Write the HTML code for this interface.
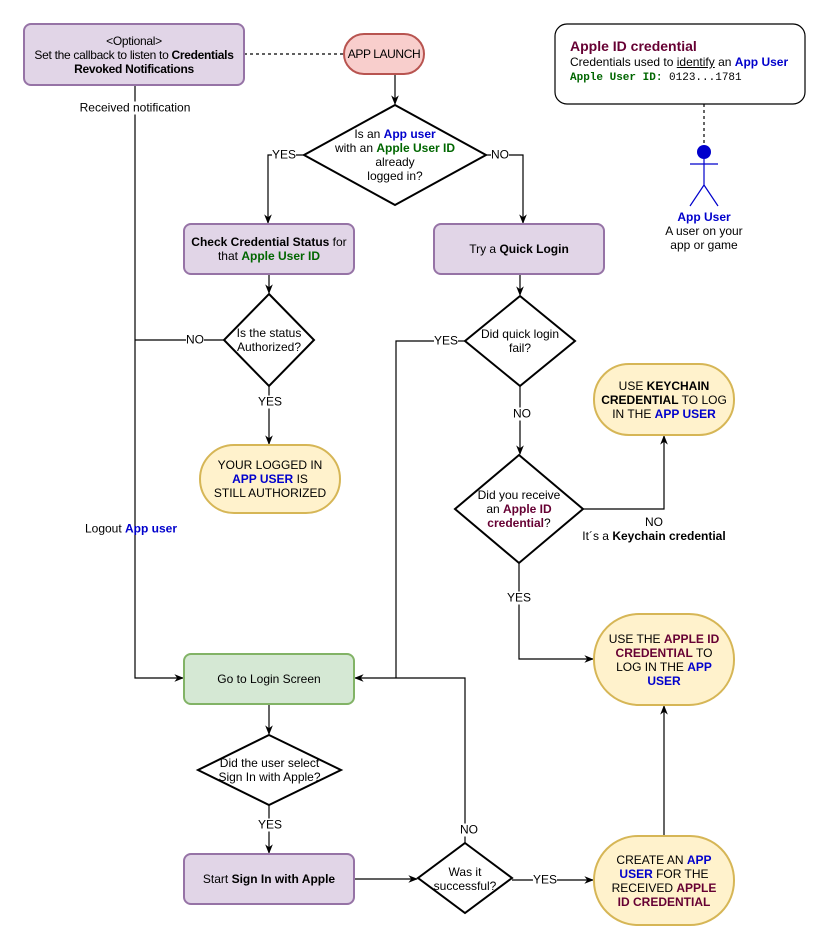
<!DOCTYPE html>
<html><head><meta charset="utf-8"><style>
body{margin:0;background:#fff;width:822px;height:943px;position:relative;overflow:hidden;font-family:"Liberation Sans",Arial,sans-serif;font-size:12px;color:#000}
.t{position:absolute;display:flex;align-items:center;justify-content:center;text-align:center;line-height:14px}
.l{position:absolute;background:#fff;line-height:13px;white-space:nowrap;transform:translate(-50%,-50%)}
.b{color:#0000cc;font-weight:bold}.g{color:#006600;font-weight:bold}.m{color:#660033;font-weight:bold}
svg{position:absolute;left:0;top:0}
</style></head><body>
<svg width="822" height="943" viewBox="0 0 822 943">
<defs><marker id="a" viewBox="0 0 10 10" refX="9" refY="5" markerWidth="8" markerHeight="8" orient="auto-start-reverse"><path d="M0,1 L10,5 L0,9 L3,5z" fill="#000"/></marker></defs>
<g fill="none" stroke="#000" stroke-width="1.2">
<path d="M244 54 H344" stroke-dasharray="3,3"/>
<path d="M704 104 V145" stroke-dasharray="3,3"/>
<path d="M395 74 V104" marker-end="url(#a)"/>
<path d="M304 155 H268 V223" marker-end="url(#a)"/>
<path d="M486 155 H523 V223" marker-end="url(#a)"/>
<path d="M269 274 V293" marker-end="url(#a)"/>
<path d="M520 274 V295" marker-end="url(#a)"/>
<path d="M224 340 H135"/>
<path d="M135 85 V678 H183" marker-end="url(#a)"/>
<path d="M269 386 V444" marker-end="url(#a)"/>
<path d="M465 341 H396 V678"/>
<path d="M520 386 V454" marker-end="url(#a)"/>
<path d="M583 509 H664 V436" marker-end="url(#a)"/>
<path d="M519 563 V659 H593" marker-end="url(#a)"/>
<path d="M269 704 V734" marker-end="url(#a)"/>
<path d="M269 805 V853" marker-end="url(#a)"/>
<path d="M354 879 H417" marker-end="url(#a)"/>
<path d="M465 843 V678 H355" marker-end="url(#a)"/>
<path d="M512 880 H593" marker-end="url(#a)"/>
<path d="M664 836 V706" marker-end="url(#a)"/>
<path d="M704 159 V185 M690 164 H718 M704 185 L690 206 M704 185 L718 206" stroke="#0000cc"/>
</g>
<circle cx="704" cy="152" r="7" fill="#0000cc"/>
<rect x="24" y="24" width="220" height="61" rx="7" fill="#e1d5e7" stroke="#9673a6" stroke-width="2"/>
<rect x="344" y="34" width="80" height="40" rx="20" fill="#f8cecc" stroke="#b85450" stroke-width="2"/>
<rect x="555" y="24" width="250" height="80" rx="12" fill="#fff" stroke="#000" stroke-width="1.2"/>
<g fill="#fff" stroke="#000" stroke-width="2">
<path d="M395 105 L486 155 L395 205 L304 155z"/>
<path d="M269 294 L314 340 L269 386 L224 340z"/>
<path d="M520 296 L575 341 L520 386 L465 341z"/>
<path d="M519 455 L583 509 L519 563 L455 509z"/>
<path d="M269 735 L341 770 L269 805 L198 770z"/>
<path d="M465 843 L512 878 L465 913 L418 878z"/>
</g>
<rect x="184" y="224" width="170" height="50" rx="7" fill="#e1d5e7" stroke="#9673a6" stroke-width="2"/>
<rect x="434" y="224" width="170" height="50" rx="7" fill="#e1d5e7" stroke="#9673a6" stroke-width="2"/>
<rect x="184" y="654" width="170" height="50" rx="7" fill="#d5e8d4" stroke="#82b366" stroke-width="2"/>
<rect x="184" y="854" width="170" height="50" rx="7" fill="#e1d5e7" stroke="#9673a6" stroke-width="2"/>
<g fill="#fff2cc" stroke="#d6b656" stroke-width="2">
<rect x="200" y="445" width="140" height="68" rx="34"/>
<rect x="594" y="364" width="140" height="71" rx="35"/>
<rect x="594" y="614" width="140" height="91" rx="45"/>
<rect x="594" y="836" width="140" height="89" rx="44"/>
</g>
</svg>
<div class="t" style="left:24px;top:24px;width:220px;height:61px"><span style="letter-spacing:-0.3px">&lt;Optional&gt;<br>Set the callback to listen to <b>Credentials</b><br><b>Revoked Notifications</b></span></div>
<div class="t" style="left:344px;top:34px;width:80px;height:40px;letter-spacing:-0.4px">APP LAUNCH</div>
<div style="position:absolute;left:570px;top:38px;line-height:16px">
<div style="color:#660033;font-weight:bold;font-size:14px">Apple ID credential</div>
<div>Credentials used to <u>identify</u> an <span class="b">App User</span></div>
<div style="font-family:'Liberation Mono',monospace;font-size:11px"><span class="g">Apple User ID:</span> 0123...1781</div></div>
<div class="t" style="left:644px;top:210px;width:120px;flex-direction:column"><span class="b">App User</span><span>A user on your</span><span>app or game</span></div>
<div class="t" style="left:315px;top:120px;width:160px;height:70px;flex-direction:column"><span>Is an <span class="b">App user</span></span><span>with an <span class="g">Apple User ID</span></span><span>already</span><span>logged in?</span></div>
<div class="t" style="left:184px;top:224px;width:170px;height:50px"><span><b>Check Credential Status</b> for<br>that <span class="g">Apple User ID</span></span></div>
<div class="t" style="left:434px;top:224px;width:170px;height:50px"><span>Try a <b>Quick Login</b></span></div>
<div class="t" style="left:224px;top:326px;width:90px;height:28px">Is the status<br>Authorized?</div>
<div class="t" style="left:465px;top:327px;width:110px;height:28px">Did quick login<br>fail?</div>
<div class="t" style="left:460px;top:488px;width:118px;height:42px"><span>Did you receive<br>an <span class="m">Apple ID</span><br><span class="m">credential</span>?</span></div>
<div class="t" style="left:200px;top:445px;width:140px;height:68px"><span>YOUR LOGGED IN<br><span class="b">APP USER</span> IS<br>STILL AUTHORIZED</span></div>
<div class="t" style="left:594px;top:364px;width:140px;height:71px"><span>USE <b>KEYCHAIN</b><br><b>CREDENTIAL</b> TO LOG<br>IN THE <span class="b">APP USER</span></span></div>
<div class="t" style="left:594px;top:614px;width:140px;height:91px"><span>USE THE <span class="m">APPLE ID</span><br><span class="m">CREDENTIAL</span> TO<br>LOG IN THE <span class="b">APP</span><br><span class="b">USER</span></span></div>
<div class="t" style="left:594px;top:836px;width:140px;height:89px"><span>CREATE AN <span class="b">APP</span><br><span class="b">USER</span> FOR THE<br>RECEIVED <span class="m">APPLE</span><br><span class="m">ID CREDENTIAL</span></span></div>
<div class="t" style="left:184px;top:654px;width:170px;height:50px">Go to Login Screen</div>
<div class="t" style="left:198px;top:755px;width:143px;height:30px">Did the user select<br>Sign In with Apple?</div>
<div class="t" style="left:184px;top:854px;width:170px;height:50px"><span>Start <b>Sign In with Apple</b></span></div>
<div class="t" style="left:418px;top:864px;width:94px;height:30px">Was it<br>successful?</div>
<div class="l" style="left:135px;top:108px">Received notification</div>
<div class="l" style="left:284px;top:155px">YES</div>
<div class="l" style="left:500px;top:155px">NO</div>
<div class="l" style="left:195px;top:340px">NO</div>
<div class="l" style="left:270px;top:402px">YES</div>
<div class="l" style="left:446px;top:341px">YES</div>
<div class="l" style="left:522px;top:414px">NO</div>
<div class="l" style="left:654px;top:529px;text-align:center;line-height:14px;background:none">NO<br>It´s a <b>Keychain credential</b></div>
<div class="l" style="left:519px;top:598px">YES</div>
<div class="l" style="left:131px;top:529px;background:none">Logout <span class="b">App user</span></div>
<div class="l" style="left:270px;top:825px">YES</div>
<div class="l" style="left:469px;top:830px">NO</div>
<div class="l" style="left:545px;top:880px">YES</div>
</body></html>
